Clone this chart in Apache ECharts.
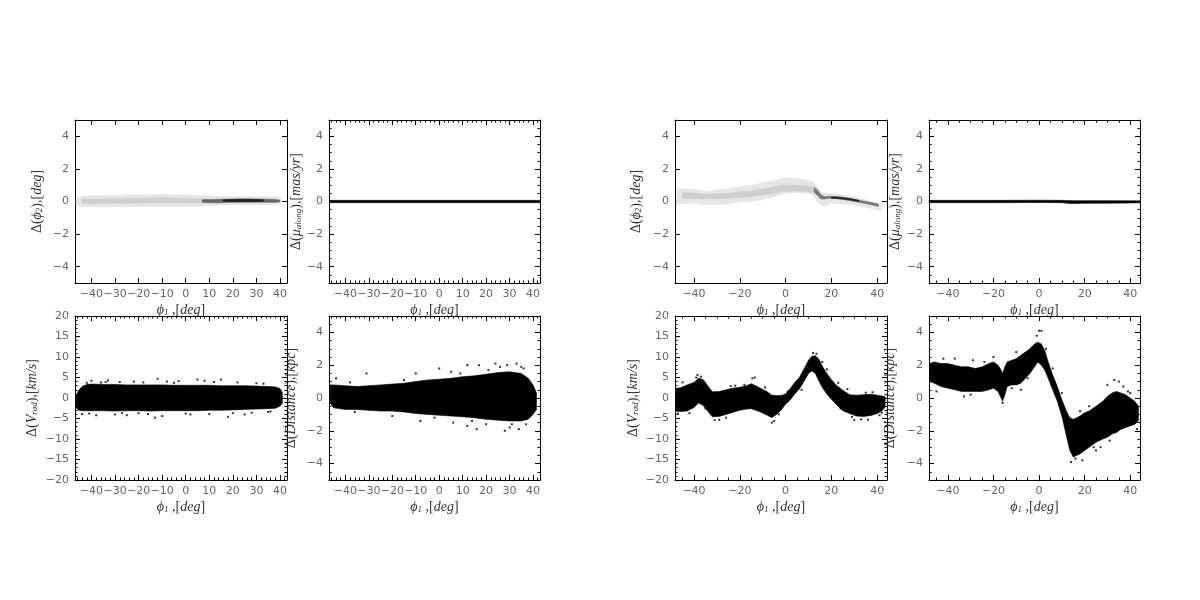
<!DOCTYPE html>
<html><head><meta charset="utf-8">
<script src="https://cdn.jsdelivr.net/npm/echarts@6/dist/echarts.min.js"></script>
<style>html,body{margin:0;padding:0;background:#fff}#c{width:1200px;height:600px}</style>
</head><body><div id="c"></div>
<script>
// ---------- tick labels ----------
const xTicksLeft = [-40, -30, -20, -10, 0, 10, 20, 30, 40];
const xTicksRight = [-40, -20, 0, 20, 40];
const yTicksSmall = [-4, -2, 0, 2, 4];
const yTicksVrad = [-20, -15, -10, -5, 0, 5, 10, 15, 20];

// ---------- panel 1: left, Δφ2 (grey density) ----------
const lPhi2HaloX = [-46.5, -44, -40, -35, -30, -25, -20, -15, -10, -5, 0, 5, 10, 15, 20, 25, 30, 35, 38, 40.5];
const lPhi2HaloLo = [-0.2, -0.3, -0.3, -0.35, -0.3, -0.3, -0.3, -0.3, -0.3, -0.3, -0.3, -0.28, -0.25, -0.22, -0.2, -0.2, -0.2, -0.2, -0.2, -0.1];
const lPhi2HaloHi = [0.2, 0.3, 0.35, 0.35, 0.35, 0.4, 0.4, 0.4, 0.45, 0.4, 0.4, 0.38, 0.35, 0.32, 0.3, 0.3, 0.3, 0.3, 0.3, 0.2];
const lPhi2MidX = [-44, -35, -25, -15, -10, -5, 0, 5, 10];
const lPhi2MidLo = [-0.12, -0.12, -0.1, -0.08, -0.08, -0.08, -0.08, -0.07, -0.06];
const lPhi2MidHi = [0.15, 0.15, 0.2, 0.22, 0.25, 0.22, 0.2, 0.18, 0.16];
const lPhi2DarkX = [7, 10, 14, 18, 22, 26, 30, 34, 38, 40];
const lPhi2DarkLo = [-0.05, -0.08, -0.08, -0.06, -0.05, -0.05, -0.05, -0.05, -0.05, -0.02];
const lPhi2DarkHi = [0.1, 0.12, 0.14, 0.15, 0.16, 0.16, 0.15, 0.14, 0.13, 0.08];
const lPhi2CoreX = [16, 20, 25, 30, 33];
const lPhi2CoreLo = [0.02, 0.0, 0.0, 0.0, 0.02];
const lPhi2CoreHi = [0.1, 0.13, 0.14, 0.13, 0.1];

// ---------- panel 2: left, Δμ_along ----------
const lMuX = [-46.8, -20, 0, 20, 42.8];
const lMuLo = [-0.07, -0.07, -0.07, -0.07, -0.07];
const lMuHi = [0.07, 0.07, 0.07, 0.07, 0.07];

// ---------- panel 3: left, ΔV_rad ----------
const lVradX = [-46.5, -45.5, -44, -42, -40, -35, -30, -25, -20, -15, -10, -5, 0, 5, 10, 15, 20, 25, 30, 35, 38, 40, 41];
const lVradHi = [0.6, 1.8, 2.8, 3.3, 3.4, 3.3, 3.3, 3.2, 3.2, 3.2, 3.2, 3.1, 3.1, 3.1, 3.1, 3.0, 3.0, 3.0, 2.9, 2.8, 2.7, 2.3, 1.4];
const lVradLo = [-2.4, -3.0, -3.1, -3.1, -3.1, -3.1, -3.2, -3.1, -3.1, -3.2, -3.1, -3.1, -3.1, -3.1, -3.0, -3.0, -2.9, -2.8, -2.7, -2.6, -2.5, -2.0, -1.3];
const lVradOutX = [-40, -36, -33, -28, -22, -12, -8, 5, 15, 22, -38, -30, -20, -13, -10, 2, 10, 18, 28, -44, 33, -25, 8, -3, 25, 36, -42, -34, -18, -5, 12, 30, -41, -27, -16, 0, 20, 35];
const lVradOutY = [4.2, 3.8, 4.3, 3.9, 4.0, 4.7, 4.0, 4.5, 4.5, 3.8, -4.2, -4.0, -3.7, -4.8, -4.4, -4.0, -3.9, -4.6, -3.6, -3.9, 3.5, -4.2, 4.2, 4.1, -4.0, -3.3, 3.7, 3.9, 3.8, 3.7, 3.9, 3.6, -3.8, -3.7, -3.9, -3.8, -3.7, -3.4];

// ---------- panel 4: left, ΔDistance ----------
const lDistX = [-46.5, -45, -40, -35, -30, -25, -20, -15, -10, -5, 0, 5, 10, 15, 20, 25, 30, 35, 38, 40, 41.5];
const lDistHi = [0.8, 0.8, 0.75, 0.7, 0.75, 0.8, 0.85, 0.9, 1.0, 1.1, 1.15, 1.2, 1.3, 1.35, 1.45, 1.55, 1.6, 1.5, 1.2, 0.8, 0.3];
const lDistLo = [-0.3, -0.6, -0.7, -0.7, -0.75, -0.8, -0.8, -0.85, -0.95, -1.0, -1.05, -1.1, -1.15, -1.2, -1.3, -1.35, -1.4, -1.4, -1.3, -1.0, -0.7];
const lDistOutX = [-44, -31, -10, 0, 5, 12, 17, 24, 29, 33, 35, -8, 6, 12, 16, 20, 28, 34, 37, 40, -20, 26, 30, -38, -15, 9, 21, 36, -36, -2, 14, 31];
const lDistOutY = [1.2, 1.5, 1.5, 1.8, 1.6, 2.0, 2.0, 2.1, 2.0, 2.1, 1.9, -1.4, -1.5, -1.7, -1.9, -1.6, -2.0, -1.9, -1.6, -0.9, -1.1, 1.9, -1.8, 0.95, 1.1, 1.5, 1.7, 1.8, -0.85, -1.2, -1.4, -1.6];

// ---------- panel 5: right, Δφ2 (grey density) ----------
const rPhi2HaloX = [-47.5, -40, -35, -30, -25, -20, -15, -10, -5, 0, 5, 10, 12, 13.5, 15, 17, 20, 25, 30, 35, 40, 42];
const rPhi2HaloLo = [-0.15, -0.1, -0.2, -0.2, -0.15, 0, 0, 0.1, 0.3, 0.5, 0.55, 0.5, 0.4, 0.1, -0.2, -0.3, -0.1, -0.15, -0.2, -0.35, -0.5, -0.5];
const rPhi2HaloHi = [0.8, 0.75, 0.6, 0.7, 0.8, 0.9, 1.0, 1.15, 1.3, 1.45, 1.4, 1.3, 1.2, 1.0, 0.6, 0.5, 0.5, 0.4, 0.3, 0.1, -0.1, -0.15];
const rPhi2MidX = [-45, -35, -25, -15, -8, -2, 3, 10, 13];
const rPhi2MidLo = [0.2, 0.15, 0.2, 0.3, 0.45, 0.6, 0.65, 0.6, 0.5];
const rPhi2MidHi = [0.55, 0.45, 0.5, 0.65, 0.8, 1.0, 1.0, 0.95, 0.85];
const rPhi2DarkX = [12.5, 14, 15.5, 17, 19, 22, 27, 32, 37, 40.5];
const rPhi2DarkLo = [0.6, 0.35, 0.15, 0.15, 0.2, 0.18, 0.08, -0.05, -0.18, -0.3];
const rPhi2DarkHi = [0.85, 0.7, 0.4, 0.3, 0.32, 0.3, 0.22, 0.08, -0.05, -0.15];
const rPhi2CoreX = [20, 24, 28, 32];
const rPhi2CoreLo = [0.2, 0.17, 0.1, 0.0];
const rPhi2CoreHi = [0.28, 0.26, 0.19, 0.07];

// ---------- panel 6: right, Δμ_along ----------
const rMuX = [-48.3, -20, 0, 10, 12, 15, 20, 30, 40, 44.3];
const rMuLo = [-0.07, -0.07, -0.06, -0.07, -0.1, -0.12, -0.11, -0.1, -0.09, -0.08];
const rMuHi = [0.07, 0.07, 0.08, 0.07, 0.06, 0.05, 0.05, 0.05, 0.04, 0.04];

// ---------- panel 7: right, ΔV_rad ----------
const rVradX = [-48, -46, -43, -40, -38, -36, -34, -32, -29, -26, -23, -20, -17, -15, -13, -11, -8, -6, -4, -2, 0, 2, 4, 6, 8, 10, 11.5, 13, 14.5, 16, 18, 20, 22, 25, 28, 31, 34, 37, 40, 42, 43.5];
const rVradHi = [2.3, 2.5, 3.2, 3.8, 4.8, 4.5, 3.0, 1.5, 1.6, 2.0, 2.4, 2.6, 3.0, 3.5, 3.0, 2.4, 1.5, 0.7, 0.6, 0.6, 1.0, 2.3, 3.8, 5.0, 7.0, 9.2, 10.2, 10.3, 9.5, 7.8, 6.0, 4.5, 3.2, 1.9, 0.8, 0.7, 0.8, 0.9, 0.7, 0.5, 0.3];
const rVradLo = [-3.2, -3.3, -3.2, -2.3, -1.2, -1.8, -3.2, -4.6, -4.5, -4.0, -3.5, -3.0, -2.7, -2.6, -3.0, -3.4, -4.2, -4.8, -4.0, -3.0, -1.5, -0.5, 1.0, 2.2, 4.0, 6.0, 6.6, 6.0, 4.2, 2.6, 1.0, -0.3, -1.5, -3.1, -3.8, -4.4, -4.5, -4.3, -3.8, -3.2, -2.2];
const rVradOutX = [-38.5, -37, -39, -14.5, -13.5, -31, -29, -6, -5, 12, 13.5, 30, 33, 36, -45, -47, 18, 16, 23, 27, -22, -9, -26, 38, 41, -42, -35, -24, -18, -3, 1, 7, 24, 29, 35, 42];
const rVradOutY = [5.6, 5.2, 5.0, 4.8, 5.0, -5.4, -5.3, -6.0, -5.6, 11.0, 10.8, -5.4, -5.2, -5.3, 3.8, -3.8, 7.0, 8.8, 3.7, 2.2, 3.0, 2.6, -4.8, 1.4, -4.2, -3.7, -2.6, 2.9, 3.2, -4.0, 1.6, 2.0, -2.5, -4.6, 1.3, -3.6];

// ---------- panel 8: right, ΔDistance ----------
const rDistX = [-48, -46, -43, -40, -37, -34, -31, -28, -25, -22, -20, -18, -17, -16, -15, -14, -12, -10, -8, -6, -4, -2, -0.5, 1, 2.5, 4, 6, 8, 10, 12, 13.5, 15, 16.5, 18, 20, 22, 25, 28, 30, 32, 34, 36, 38, 40, 42, 43.6];
const rDistHi = [2.1, 2.2, 2.1, 2.1, 2.0, 1.9, 1.9, 1.8, 1.9, 2.1, 2.2, 2.0, 1.8, 1.5, 1.9, 2.2, 2.3, 2.4, 2.6, 2.8, 3.0, 3.3, 3.4, 3.3, 2.9, 2.2, 1.4, 0.7, -0.1, -0.8, -1.2, -1.3, -1.2, -1.1, -0.9, -0.8, -0.5, -0.2, 0.1, 0.3, 0.4, 0.3, 0.2, 0.0, -0.2, -0.5];
const rDistLo = [1.0, 0.9, 0.7, 0.6, 0.5, 0.4, 0.4, 0.4, 0.4, 0.5, 0.6, 0.4, 0.1, -0.2, 0.2, 0.7, 0.8, 0.8, 0.9, 1.2, 1.5, 1.9, 2.2, 2.0, 1.7, 1.2, 0.5, -0.2, -1.1, -2.3, -3.2, -3.6, -3.5, -3.4, -3.2, -3.0, -2.7, -2.5, -2.4, -2.2, -2.1, -1.9, -1.8, -1.7, -1.6, -1.4];
const rDistOutX = [0, 1, -1, -37, -29, -16, 14, 16, 19, 27, 30, 33, 35, 37, -45, -30, -8, 3, 22, 40, 43, 25, -20, -10, -42, -33, -24, -12, -5, 6, 10, 18, 24, 31, 39];
const rDistOutY = [4.1, 4.1, 3.8, 2.4, 2.3, -0.3, -3.9, -3.7, -3.8, -3.0, 0.8, 1.1, 1.0, 0.7, 0.4, 0.2, 0.5, 3.0, -0.5, 0.3, -1.9, -3.2, 2.5, 2.8, 2.4, 0.1, 2.2, 0.6, 1.2, 1.8, 0.3, -0.8, -3.0, -2.6, 0.4];

// ---------- axis titles (rich text) ----------
const xTitle = '{i|ϕ}{s|1}{n| ,[}{i|deg}{n|]}';
const yTitlePhi2 = '{n|Δ(}{i|ϕ}{s|2}{n|),[}{i|deg}{n|]}';
const yTitleMu = '{n|Δ(}{i|μ}{s|along}{n|),[}{i|mas/yr}{n|]}';
const yTitleVrad = '{n|Δ(}{i|V}{s|rad}{n|),[}{i|km/s}{n|]}';
const yTitleDist = '{n|Δ(}{i|Distance}{n|),[}{i|kpc}{n|]}';

// ---------- layout / style ----------
const SERIF = '"Liberation Serif", "DejaVu Serif", serif';
const rich = {
  n: {fontFamily: SERIF, fontSize: 14, color: '#333'},
  i: {fontFamily: SERIF, fontSize: 14, fontStyle: 'italic', color: '#333'},
  s: {fontFamily: SERIF, fontSize: 9, fontStyle: 'italic', color: '#333', verticalAlign: 'bottom', padding: [5, 0, 0, 0]}
};
const fmt = v => String(v).replace('-', '\u2212');

const panels = [
  {left: 75, top: 120, w: 212, h: 163, xr: [-47, 43], yr: [-5, 5], xt: xTicksLeft, yt: yTicksSmall, xm: 0, ym: 0, yName: yTitlePhi2, yGap: 31,
   bands: [[lPhi2HaloX, lPhi2HaloLo, lPhi2HaloHi, '#e6e6e6'], [lPhi2MidX, lPhi2MidLo, lPhi2MidHi, '#d0d0d0'], [lPhi2DarkX, lPhi2DarkLo, lPhi2DarkHi, '#666'], [lPhi2CoreX, lPhi2CoreLo, lPhi2CoreHi, '#1e1e1e']]},
  {left: 329, top: 120, w: 211, h: 163, xr: [-47, 43], yr: [-5, 5], xt: xTicksLeft, yt: yTicksSmall, xm: 2, ym: 0.5, yName: yTitleMu, yGap: 26,
   bands: [[lMuX, lMuLo, lMuHi, '#000']]},
  {left: 75, top: 316, w: 212, h: 164, xr: [-47, 43], yr: [-20, 20], xt: xTicksLeft, yt: yTicksVrad, xm: 2, ym: 1, yName: yTitleVrad, yGap: 36,
   bands: [[lVradX, lVradLo, lVradHi, '#000']], outX: lVradOutX, outY: lVradOutY},
  {left: 329, top: 316, w: 211, h: 164, xr: [-47, 43], yr: [-5, 5], xt: xTicksLeft, yt: yTicksSmall, xm: 2, ym: 0.5, yName: yTitleDist, yGap: 31,
   bands: [[lDistX, lDistLo, lDistHi, '#000']], outX: lDistOutX, outY: lDistOutY},
  {left: 675, top: 120, w: 212, h: 163, xr: [-48.3, 44.3], yr: [-5, 5], xt: xTicksRight, yt: yTicksSmall, xm: 0, ym: 0, yName: yTitlePhi2, yGap: 32,
   bands: [[rPhi2HaloX, rPhi2HaloLo, rPhi2HaloHi, '#e6e6e6'], [rPhi2MidX, rPhi2MidLo, rPhi2MidHi, '#cecece'], [rPhi2DarkX, rPhi2DarkLo, rPhi2DarkHi, '#777'], [rPhi2CoreX, rPhi2CoreLo, rPhi2CoreHi, '#222']]},
  {left: 929, top: 120, w: 211, h: 163, xr: [-48.3, 44.3], yr: [-5, 5], xt: xTicksRight, yt: yTicksSmall, xm: 5, ym: 0.5, yName: yTitleMu, yGap: 27,
   bands: [[rMuX, rMuLo, rMuHi, '#000']]},
  {left: 675, top: 316, w: 212, h: 164, xr: [-48.3, 44.3], yr: [-20, 20], xt: xTicksRight, yt: yTicksVrad, xm: 5, ym: 1, yName: yTitleVrad, yGap: 35,
   bands: [[rVradX, rVradLo, rVradHi, '#000']], outX: rVradOutX, outY: rVradOutY},
  {left: 929, top: 316, w: 211, h: 164, xr: [-48.3, 44.3], yr: [-5, 5], xt: xTicksRight, yt: yTicksSmall, xm: 5, ym: 0.5, yName: yTitleDist, yGap: 32,
   bands: [[rDistX, rDistLo, rDistHi, '#000']], outX: rDistOutX, outY: rDistOutY}
];

function minorVals(r, step, majors) {
  if (!step) return [];
  const out = [];
  const start = Math.ceil(r[0] / step - 1e-9);
  for (let k = start; k * step <= r[1] + 1e-9; k++) {
    const v = +(k * step).toFixed(6);
    if (!majors.some(m => Math.abs(m - v) < 1e-9)) out.push(v);
  }
  return out;
}

const grids = [], xAxes = [], yAxes = [], series = [];
const line = {show: true, onZero: false, lineStyle: {color: '#000', width: 1}};
const noLine = {show: false, onZero: false};
const tickLabel = (vals) => ({customValues: vals, formatter: fmt, color: '#666', fontSize: 11, fontFamily: 'DejaVu Sans', margin: 6,
  showMinLabel: true, showMaxLabel: true, hideOverlap: false});

panels.forEach((p, g) => {
  grids.push({left: p.left, top: p.top, width: p.w, height: p.h});
  const xMain = xAxes.length;
  const baseX = {gridIndex: g, type: 'value', min: p.xr[0], max: p.xr[1], splitLine: {show: false}};
  xAxes.push(Object.assign({}, baseX, {position: 'bottom', axisLine: line,
    axisTick: {show: true, inside: true, length: 5, customValues: p.xt, lineStyle: {color: '#000'}},
    axisLabel: tickLabel(p.xt),
    name: xTitle, nameLocation: 'middle', nameGap: 20, nameTextStyle: {rich}}));
  xAxes.push(Object.assign({}, baseX, {position: 'top', axisLine: line,
    axisTick: {show: true, inside: true, length: 5, customValues: p.xt, lineStyle: {color: '#000'}},
    axisLabel: {show: false}}));
  const xmin = minorVals(p.xr, p.xm, p.xt);
  if (xmin.length) {
    ['bottom', 'top'].forEach(pos => xAxes.push(Object.assign({}, baseX, {position: pos, axisLine: noLine,
      axisTick: {show: true, inside: true, length: 2.5, customValues: xmin, lineStyle: {color: '#000'}},
      axisLabel: {show: false}})));
  }
  const yMain = yAxes.length;
  const baseY = {gridIndex: g, type: 'value', min: p.yr[0], max: p.yr[1], splitLine: {show: false}};
  yAxes.push(Object.assign({}, baseY, {position: 'left', axisLine: line,
    axisTick: {show: true, inside: true, length: 5, customValues: p.yt, lineStyle: {color: '#000'}},
    axisLabel: tickLabel(p.yt),
    name: p.yName, nameLocation: 'middle', nameGap: p.yGap, nameRotate: 90, nameTextStyle: {rich}}));
  yAxes.push(Object.assign({}, baseY, {position: 'right', axisLine: line,
    axisTick: {show: true, inside: true, length: 5, customValues: p.yt, lineStyle: {color: '#000'}},
    axisLabel: {show: false}}));
  const ymin = minorVals(p.yr, p.ym, p.yt);
  if (ymin.length) {
    ['left', 'right'].forEach(pos => yAxes.push(Object.assign({}, baseY, {position: pos, axisLine: noLine,
      axisTick: {show: true, inside: true, length: 2.5, customValues: ymin, lineStyle: {color: '#000'}},
      axisLabel: {show: false}})));
  }
  p.bands.forEach(([xs, lo, hi, color]) => {
    const data = xs.map((x, i) => [x, lo[i], hi[i]]);
    series.push({
      type: 'custom', xAxisIndex: xMain, yAxisIndex: yMain, data, silent: true, animation: false,
      encode: {x: 0, y: [1, 2]},
      renderItem(params, api) {
        if (params.dataIndex !== 0) return null;
        const top = data.map(d => api.coord([d[0], d[2]]));
        const bot = data.slice().reverse().map(d => api.coord([d[0], d[1]]));
        return {type: 'polygon', shape: {points: top.concat(bot)},
          style: {fill: color, stroke: color, lineWidth: 0.6}};
      }
    });
  });
  if (p.outX) {
    series.push({type: 'scatter', xAxisIndex: xMain, yAxisIndex: yMain, silent: true, animation: false,
      symbol: 'rect', symbolSize: 2, itemStyle: {color: '#000'},
      data: p.outX.map((x, i) => [x, p.outY[i]])});
  }
});

const chart = echarts.init(document.getElementById('c'), null, {renderer: 'canvas'});
chart.setOption({backgroundColor: '#fff', animation: false, grid: grids, xAxis: xAxes, yAxis: yAxes, series});
</script></body></html>
